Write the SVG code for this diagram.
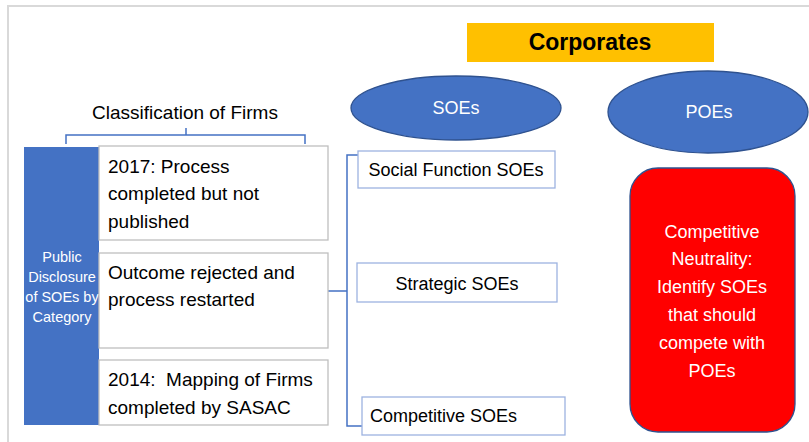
<svg xmlns="http://www.w3.org/2000/svg" width="809" height="442" viewBox="0 0 809 442">
<style>
text{font-family:"Liberation Sans",Arial,sans-serif;fill:#000;white-space:pre}
.w{fill:#fff}
.box{fill:#fff;stroke:#bfbfbf;stroke-width:1.3}
.bbox{fill:#fff;stroke:#9db3e0;stroke-width:1.3}
.ell{fill:#4472C4;stroke:#2F528F;stroke-width:1.3}
.con{fill:none;stroke:#4472C4;stroke-width:1.5}
.t{font-size:18px}
.l{font-size:19px}
</style>
<rect x="0" y="0" width="809" height="442" fill="#fff"/>
<path d="M8 442 V6 H809" fill="none" stroke="#d9d9d9" stroke-width="2"/>
<g id="corporates">
<rect x="467" y="23" width="247" height="39" fill="#FFC000"/>
<text x="590" y="50" text-anchor="middle" font-size="23" font-weight="bold">Corporates</text>
</g>
<g id="soes">
<ellipse class="ell" cx="456" cy="108" rx="105" ry="32"/>
<text class="w t" x="456" y="114" text-anchor="middle">SOEs</text>
</g>
<g id="poes">
<ellipse class="ell" cx="708" cy="112" rx="100" ry="41"/>
<text class="w t" x="709" y="118" text-anchor="middle">POEs</text>
</g>
<g id="classification">
<text class="l" x="185" y="119" text-anchor="middle">Classification of Firms</text>
</g>
<g id="connectors">
<path class="con" d="M66 144 V135 H305 V144 M186 135 V128"/>
<path class="con" d="M328 291 H347 M361 155 H347 V426 H362"/>
</g>
<g id="public">
<rect x="24" y="147" width="75" height="278" fill="#4472C4"/>
<text class="w" font-size="14.5" text-anchor="middle"><tspan x="62" y="262">Public</tspan><tspan x="62" y="282">Disclosure</tspan><tspan x="62" y="302">of SOEs by</tspan><tspan x="62" y="322">Category</tspan></text>
</g>
<g id="box2017">
<rect class="box" x="99" y="146" width="229" height="94"/>
<text class="l"><tspan x="108" y="173">2017: Process</tspan><tspan x="108" y="200">completed but not</tspan><tspan x="108" y="228">published</tspan></text>
</g>
<g id="boxoutcome">
<rect class="box" x="99" y="253" width="229" height="95"/>
<text class="l"><tspan x="108" y="279">Outcome rejected and</tspan><tspan x="108" y="306">process restarted</tspan></text>
</g>
<g id="box2014">
<rect class="box" x="99" y="360" width="229" height="65"/>
<text class="l"><tspan x="108" y="386">2014:  Mapping of Firms</tspan><tspan x="108" y="414">completed by SASAC</tspan></text>
</g>
<g id="social">
<rect class="bbox" x="358" y="151" width="197" height="37"/>
<text class="t" x="456" y="176" text-anchor="middle">Social Function SOEs</text>
</g>
<g id="strategic">
<rect class="bbox" x="357" y="263" width="200" height="39"/>
<text class="t" x="457" y="290" text-anchor="middle">Strategic SOEs</text>
</g>
<g id="competitive">
<rect class="bbox" x="362" y="397" width="203" height="38"/>
<text class="t" x="370" y="422">Competitive SOEs</text>
</g>
<g id="neutrality">
<rect x="630" y="168" width="165" height="264" rx="28" fill="#FF0000" stroke="#2F528F" stroke-width="1.3"/>
<text class="w t" text-anchor="middle"><tspan x="712" y="238">Competitive</tspan><tspan x="712" y="265">Neutrality:</tspan><tspan x="712" y="293">Identify SOEs</tspan><tspan x="712" y="321">that should</tspan><tspan x="712" y="349">compete with</tspan><tspan x="712" y="377">POEs</tspan></text>
</g>
</svg>
